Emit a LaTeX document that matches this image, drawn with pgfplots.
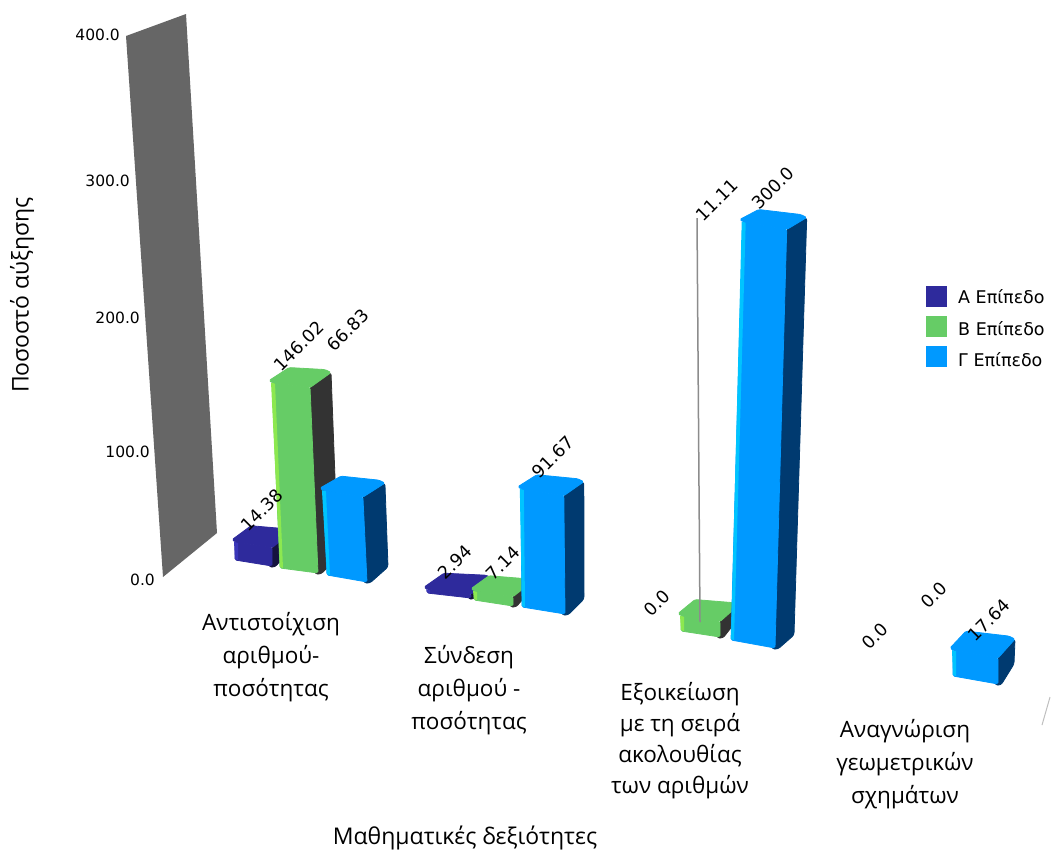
\documentclass[border=0pt]{standalone}
\usepackage{fontspec}
\setmainfont{Open Sans}
\newfontfamily\wide{DejaVu Sans}
\usepackage{pgfplots}
\pgfplotsset{compat=1.18}

\definecolor{levA}{HTML}{2E2A9C}
\definecolor{levAside}{HTML}{15133F}
\definecolor{levAstrip}{HTML}{3A36B8}
\definecolor{levB}{HTML}{66CC66}
\definecolor{levBside}{HTML}{333333}
\definecolor{levBstrip}{HTML}{8CE850}
\definecolor{levC}{HTML}{0099FF}
\definecolor{levCside}{HTML}{003A70}
\definecolor{levCstrip}{HTML}{00C4FF}
\definecolor{wall}{HTML}{666666}
\definecolor{txt}{HTML}{2A2A2A}

\newcommand{\fs}[2]{\fontsize{#1}{#2}\selectfont}
\def\getpair#1,#2;#3#4{\def#3{#1}\def#4{#2}}

% One bar in perspective.
% #1 face, #2 light edge, #3 shaded side colours; #4 front-left foot; #5 front-right foot;
% #6 depth vector; #7 value; #8 pixels per unit at this depth; #9 lean of the bar.
\newcommand{\threeDbar}[9]{%
  \getpair#4;\barxl\baryl
  \getpair#5;\barxr\baryr
  \getpair#6;\bardx\bardy
  \pgfmathsetmacro\barh{#7*#8}%
  \pgfmathsetmacro\barTLx{\barxl+#9*\barh}%
  \pgfmathsetmacro\barTLy{\baryl-\barh}%
  \pgfmathsetmacro\barTRx{\barxr+#9*\barh}%
  \pgfmathsetmacro\barTRy{\baryr-\barh}%
  \pgfmathsetmacro\barBLx{\barTLx+\bardx}%
  \pgfmathsetmacro\barBLy{\barTLy+\bardy}%
  \pgfmathsetmacro\barBRx{\barTRx+\bardx}%
  \pgfmathsetmacro\barBRy{\barTRy+\bardy}%
  \pgfmathsetmacro\barFBx{\barxr+\bardx}%
  \pgfmathsetmacro\barFBy{\baryr+\bardy}%
  % shaded side
  \addplot[fill=#3,draw=#3,line width=0.8pt,line join=round,rounded corners=2.5pt] coordinates
    {(\barTRx,\barTRy) (\barBRx+1,\barBRy+1) (\barFBx,\barFBy) (\barxr+3,\baryr+1) (\barxr-3,\baryr+1)} -- cycle;
  % front face
  \addplot[fill=#1,draw=#1,line width=0.8pt,line join=round,rounded corners=1.5pt] coordinates
    {(\barTLx,\barTLy) (\barTRx,\barTRy) (\barxr,\baryr) (\barxl,\baryl)} -- cycle;
  % light left edge
  \addplot[fill=#2,draw=none] coordinates
    {(\barTLx-1,\barTLy) (\barTLx+3,\barTLy+1) (\barxl+3,\baryl) (\barxl,\baryl-1)} -- cycle;
  % chamfered top
  \addplot[fill=#1,draw=#1,line width=0.8pt,line join=round,rounded corners=1.5pt] coordinates
    {(\barTLx,\barTLy) (\barTLx-3,\barTLy-2) (\barBLx-3,\barBLy+1) (\barBRx-5,\barBRy-2)
     (\barBRx+1,\barBRy+1) (\barTRx,\barTRy)} -- cycle;
}

\begin{document}
\begin{tikzpicture}
\begin{axis}[
  scale only axis, width=1051pt, height=852pt,
  xmin=0, xmax=1051, ymin=0, ymax=852, y dir=reverse,
  hide axis, clip=false, no markers,
  every node/.append style={text=txt},
]
% page ground
\addplot[fill=white,draw=none] coordinates {(0,0) (1051,0) (1051,852) (0,852)} -- cycle;

% back wall
\addplot[fill=wall,draw=none] coordinates {(126,36) (186,14) (217,533) (163,577)} -- cycle;
% stray edge of the floor
\addplot[color=black!25,line width=1pt] coordinates {(1050,697) (1042,725)};

% Group 1
\threeDbar{levA}{levAstrip}{levAside}{235,560}{272,566}{19,-17}{14.38}{1.27}{0}
\threeDbar{levB}{levBstrip}{levBside}{280,568}{318,573}{20,-16}{146.02}{1.27}{-0.043}
\threeDbar{levC}{levCstrip}{levCside}{327,575}{367,582}{21,-15}{66.83}{1.27}{-0.048}
% Group 2
\threeDbar{levA}{levAstrip}{levAside}{427,593}{471,598}{20,-17}{2.94}{1.3}{0}
\threeDbar{levB}{levBstrip}{levBside}{474,600}{513,606}{18,-16}{7.14}{1.3}{0}
\threeDbar{levC}{levCstrip}{levCside}{522,607}{565,614}{19,-15}{91.67}{1.29}{-0.01}
% Group 3
\threeDbar{levB}{levBstrip}{levBside}{681,631}{720,637}{17,-17}{11.11}{1.39}{0}
\addplot[color=black!45,line width=1.5pt] coordinates {(697,218) (700,622)};
\threeDbar{levC}{levCstrip}{levCside}{731,640}{775,648}{19,-13}{300}{1.395}{0.028}
% Group 4
\threeDbar{levC}{levCstrip}{levCside}{953,676}{998,684}{16,-20}{17.64}{1.47}{0}

% value scale on the wall
\foreach \lab/\px/\py in {400.0/120/35, 300.0/130/181, 200.0/140/318, 100.0/150/452, 0.0/155/580}{
  \edef\tmp{\noexpand\node[anchor=east,inner sep=0pt,font=\noexpand\wide\noexpand\fs{15.5}{18}] at (axis cs:\px,\py) {\lab};}
  \tmp
}

% value labels
\foreach \lab/\px/\py in {14.38/262/510, 146.02/299/346, 66.83/348/330,
                          2.94/455/562, 7.14/503/563, 91.67/553/457,
                          0.0/657/603, 11.11/717/200, 300.0/773/188,
                          0.0/875/636, 0.0/934/595, 17.64/989/620}{
  \edef\tmp{\noexpand\node[rotate=45,inner sep=0pt,font=\noexpand\wide\noexpand\fs{17.5}{20}] at (axis cs:\px,\py) {\lab};}
  \tmp
}

% category names
\node[align=center,inner sep=0pt,font=\fs{22.5}{33}] at (axis cs:271,657) {Αντιστοίχιση\\αριθμού-\\ποσότητας};
\node[align=center,inner sep=0pt,font=\fs{22.5}{33}] at (axis cs:469,690) {Σύνδεση\\αριθμού -\\ποσότητας};
\node[align=center,inner sep=0pt,font=\fs{22.5}{31}] at (axis cs:680,741) {Εξοικείωση\\με τη σειρά\\ακολουθίας\\των αριθμών};
\node[align=center,inner sep=0pt,font=\fs{22.5}{33}] at (axis cs:905,764) {Αναγνώριση\\γεωμετρικών\\σχημάτων};

% axis titles
\node[inner sep=0pt,font=\fs{23}{26}] at (axis cs:465,838) {Μαθηματικές δεξιότητες};
\node[rotate=90,inner sep=0pt,font=\fs{23}{26}] at (axis cs:22,295) {Ποσοστό αύξησης};

% legend
\addplot[fill=levA,draw=none] coordinates {(926,286) (947,286) (947,307) (926,307)} -- cycle;
\addplot[fill=levB,draw=none] coordinates {(926,316) (947,316) (947,337) (926,337)} -- cycle;
\addplot[fill=levC,draw=none] coordinates {(926,346) (947,346) (947,367) (926,367)} -- cycle;
\node[anchor=west,inner sep=0pt,font=\wide\fs{17.5}{20}] at (axis cs:958,297) {Α Επίπεδο};
\node[anchor=west,inner sep=0pt,font=\wide\fs{17.5}{20}] at (axis cs:958,329) {Β Επίπεδο};
\node[anchor=west,inner sep=0pt,font=\wide\fs{17.5}{20}] at (axis cs:958,360) {Γ Επίπεδο};
\end{axis}
\end{tikzpicture}
\end{document}
